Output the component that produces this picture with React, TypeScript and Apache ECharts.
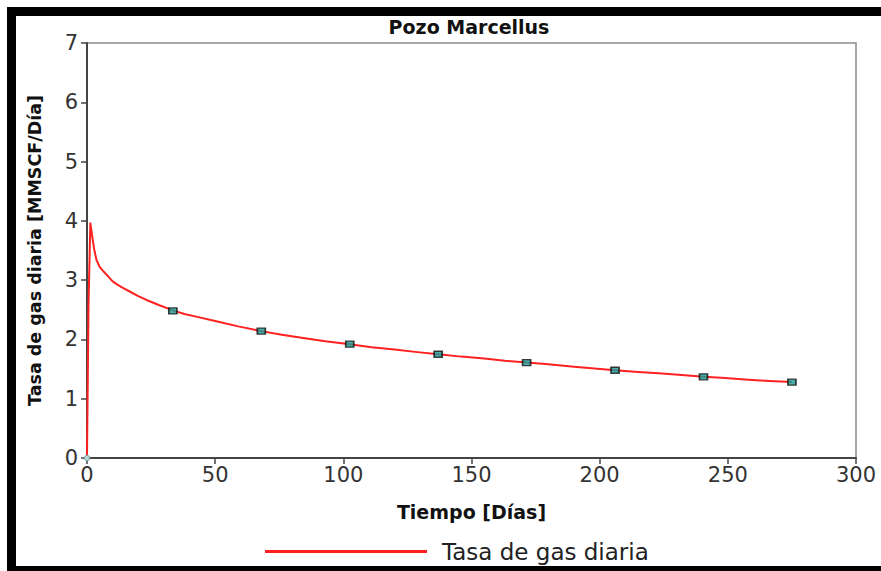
import React, { useEffect, useRef } from "react";
import * as echarts from "echarts";

const title = "Pozo Marcellus";
const xName = "Tiempo [Días]";
const yName = "Tasa de gas diaria [MMSCF/Día]";
const seriesName = "Tasa de gas diaria";

const curveDays = [0, 0.3, 0.6, 1.3, 2, 2.8, 3.7, 5, 6, 7, 8.5, 10, 12, 14, 17, 20, 23, 28, 33.5, 38, 43, 50, 59, 68, 76, 85, 93, 102.5, 111, 120, 128, 137, 146, 155, 163, 171.5, 180, 190, 198, 206, 215, 223, 232, 240.5, 249, 258, 266, 275];
const curveRates = [0, 1.3, 2.6, 3.96, 3.75, 3.52, 3.34, 3.22, 3.17, 3.12, 3.05, 2.98, 2.92, 2.87, 2.8, 2.73, 2.67, 2.58, 2.49, 2.43, 2.38, 2.31, 2.22, 2.14, 2.08, 2.02, 1.97, 1.92, 1.87, 1.83, 1.79, 1.75, 1.71, 1.68, 1.64, 1.61, 1.58, 1.54, 1.51, 1.48, 1.45, 1.43, 1.4, 1.37, 1.35, 1.32, 1.3, 1.28];

const markerDays = [33.5, 68, 102.5, 137, 171.5, 206, 240.5, 275];
const markerRates = [2.48, 2.14, 1.92, 1.75, 1.61, 1.48, 1.37, 1.28];

export default function App() {
  const ref = useRef<HTMLDivElement>(null);
  useEffect(() => {
    if (!ref.current) return;
    const chart = echarts.init(ref.current, undefined, { renderer: "svg" });
    const font = "'DejaVu Sans', 'Liberation Sans', Arial, sans-serif";
    chart.setOption({
      animation: false,
      backgroundColor: "#ffffff",
      textStyle: { fontFamily: font },
      title: {
        text: title,
        left: 464,
        top: 12,
        textAlign: "center",
        textStyle: { fontSize: 19, fontWeight: "bold", color: "#111", fontFamily: font },
      },
      legend: {
        data: [seriesName],
        left: 260,
        top: 535,
        icon: "rect",
        itemWidth: 162,
        itemHeight: 3,
        itemGap: 10,
        textStyle: { fontSize: 23, color: "#222", fontFamily: font, padding: [0, 0, 0, 10] },
      },
      grid: {
        left: 87,
        top: 43,
        right: 25,
        bottom: 113,
        show: true,
        borderColor: "#8a8a8a",
        borderWidth: 1.5,
      },
      xAxis: {
        type: "value",
        min: 0,
        max: 300,
        interval: 50,
        name: xName,
        nameLocation: "middle",
        nameGap: 44,
        nameTextStyle: { fontSize: 19, fontWeight: "bold", color: "#111", fontFamily: font },
        axisLine: { lineStyle: { color: "#444", width: 2 } },
        axisTick: { show: true, length: 6, lineStyle: { color: "#444", width: 1.5 } },
        axisLabel: { fontSize: 21, color: "#333", margin: 6, fontFamily: font },
        splitLine: { show: false },
      },
      yAxis: {
        type: "value",
        min: 0,
        max: 7,
        interval: 1,
        name: yName,
        nameLocation: "middle",
        nameGap: 43,
        nameRotate: 90,
        nameTextStyle: { fontSize: 17.5, fontWeight: "bold", color: "#111", fontFamily: font },
        axisLine: { show: true, lineStyle: { color: "#444", width: 2 } },
        axisTick: { show: true, length: 6, lineStyle: { color: "#444", width: 1.5 } },
        axisLabel: { fontSize: 21, color: "#333", margin: 9, fontFamily: font },
        splitLine: { show: false },
      },
      series: [
        {
          name: seriesName,
          type: "line",
          data: curveDays.map((d, i) => [d, curveRates[i]]),
          smooth: false,
          showSymbol: false,
          symbol: "none",
          lineStyle: { color: "#ff2020", width: 2, join: "round" },
          itemStyle: { color: "#ff2020" },
          z: 3,
        },
        {
          name: "markers",
          type: "scatter",
          data: markerDays.map((d, i) => [d, markerRates[i]]),
          symbol: "rect",
          symbolSize: [8, 6],
          itemStyle: { color: "#1c9c98", borderColor: "#111", borderWidth: 1.5 },
          z: 4,
        },
        {
          name: "origin",
          type: "scatter",
          data: [[0, 0]],
          symbol: "diamond",
          symbolSize: 7,
          itemStyle: { color: "#bff", borderColor: "#555", borderWidth: 1 },
          z: 5,
        },
      ],
      graphic: [
        { type: "rect", shape: { x: 7, y: 7, width: 874, height: 9 }, style: { fill: "#000" } },
        { type: "rect", shape: { x: 7, y: 7, width: 9, height: 564 }, style: { fill: "#000" } },
        { type: "rect", shape: { x: 7, y: 566, width: 874, height: 5 }, style: { fill: "#000" } },
      ],
    });
    return () => chart.dispose();
  }, []);
  return (
    <div
      ref={ref}
      style={{ position: "fixed", left: 0, top: 0, width: 881, height: 571 }}
    />
  );
}
